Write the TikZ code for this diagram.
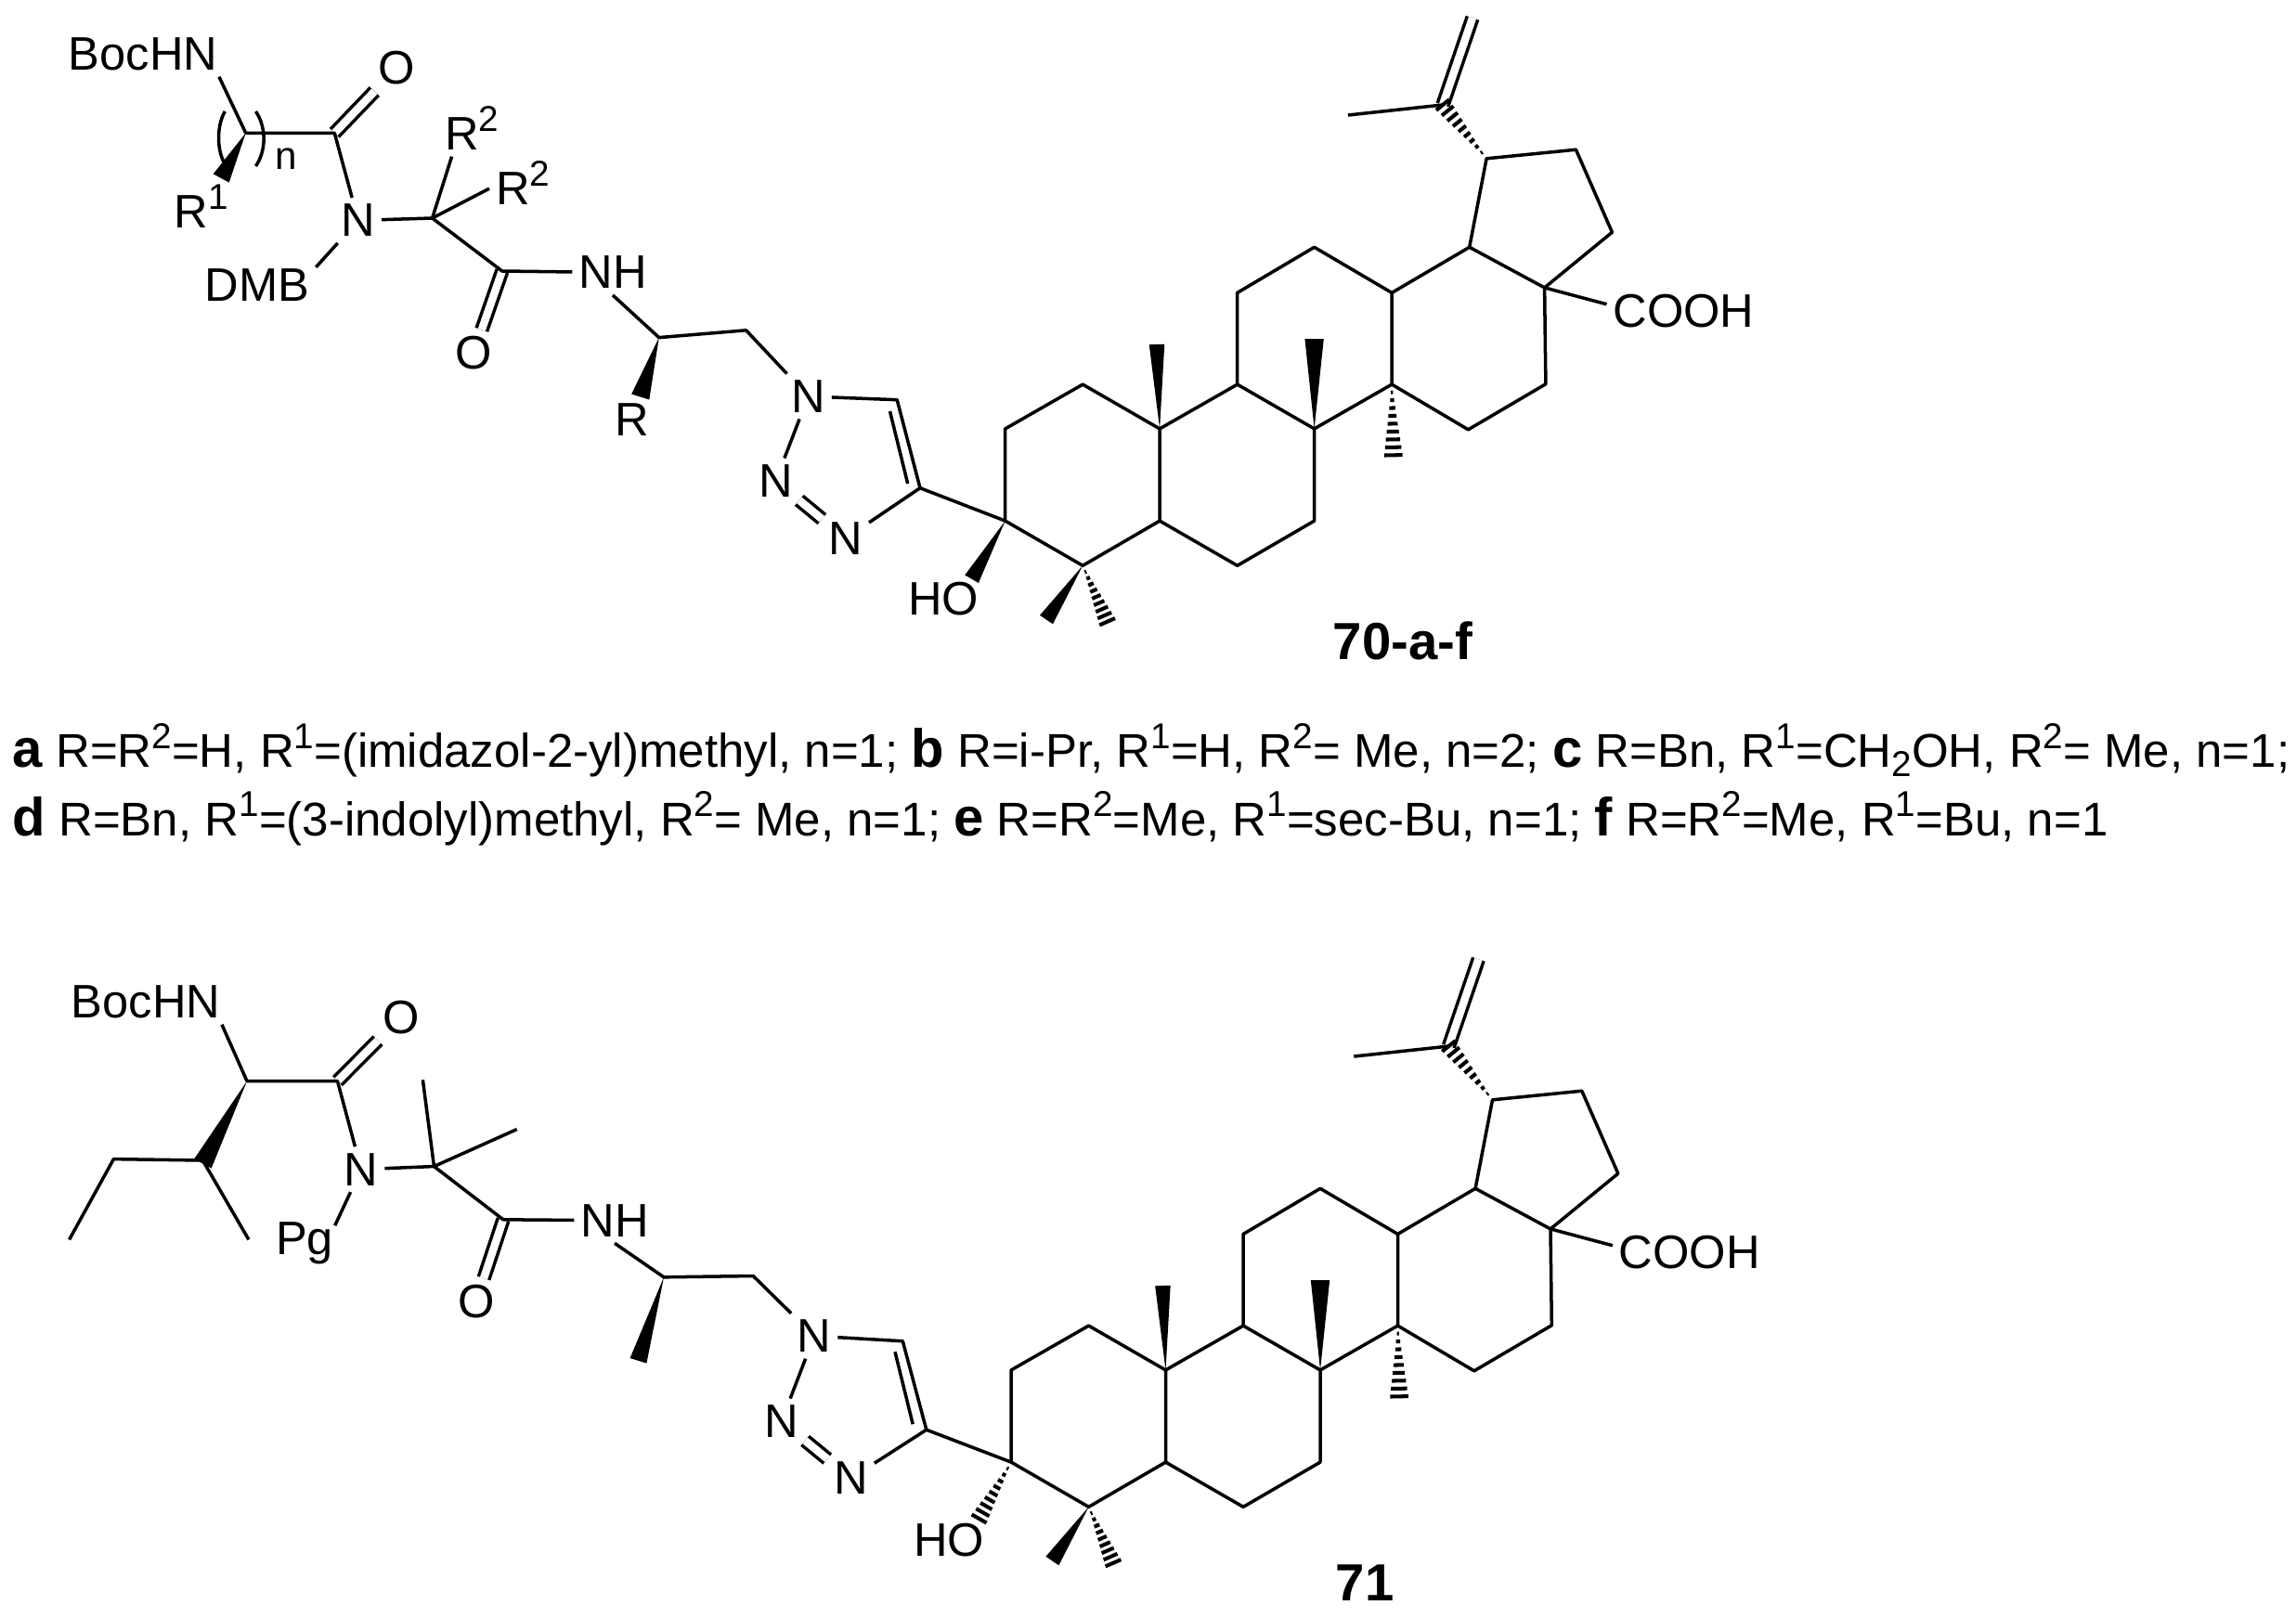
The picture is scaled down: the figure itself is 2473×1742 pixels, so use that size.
\documentclass[tikz,border=0pt]{standalone}
\usepackage{fontspec}
\setmainfont{Liberation Sans}
\usetikzlibrary{calc}

\newcommand{\sps}[1]{\raisebox{.4em}{\fontsize{11}{11}\selectfont #1}}
\newcommand{\sbs}[1]{\raisebox{-.2em}{\fontsize{11}{11}\selectfont #1}}
\newcommand{\lbl}[1]{{\fontsize{16.5}{16.5}\selectfont\bfseries #1}}

\tikzset{
  atom/.style={inner sep=1.5pt,font=\fontsize{14.4}{14.4}\selectfont},
  small/.style={inner sep=1pt,font=\fontsize{12}{12}\selectfont},
  legend/.style={inner sep=0pt,anchor=base west,font=\fontsize{14.5}{14.5}\selectfont},
  title/.style={inner sep=0pt,font=\fontsize{16}{16}\selectfont\bfseries},
  dbl/.style={double,double distance=2.4pt}
}

\newcommand{\wedgebond}[3]{
  \fill (#1) -- ($(#2)!#3!90:(#1)$) -- ($(#2)!#3!-90:(#1)$) -- cycle;
}
\newcommand{\hashbond}[3]{
  \coordinate (hl) at ($(#2)!#3!90:(#1)$);
  \coordinate (hr) at ($(#2)!#3!-90:(#1)$);
  \foreach \t in {1,...,9}
    \draw[line width=1.15pt] ($(#1)!\t/9!(hl)$) -- ($(#1)!\t/9!(hr)$);
}

% the pentacyclic part, #1 is the prefix of its names
\newcommand{\lupane}[3]{
  \begin{scope}[shift={(#2,#3)}]
    \coordinate (#1c1) at (1166.2,414.1);
    \coordinate (#1c2) at (1082.7,461.9);
    \coordinate (#1c3) at (1082.7,561.1);
    \coordinate (#1c4) at (1166.2,609.3);
    \coordinate (#1c5) at (1249.1,561.1);
    \coordinate (#1c6) at (1332.7,609.3);
    \coordinate (#1c7) at (1415.6,561.1);
    \coordinate (#1c8) at (1415.6,461.9);
    \coordinate (#1c9) at (1332.7,414.1);
    \coordinate (#1c10) at (1249.1,461.9);
    \coordinate (#1c11) at (1332.7,315.4);
    \coordinate (#1c12) at (1415.6,266.3);
    \coordinate (#1c13) at (1499.1,315.4);
    \coordinate (#1c14) at (1499.1,414.1);
    \coordinate (#1c15) at (1581.4,462.8);
    \coordinate (#1c16) at (1664.9,413.7);
    \coordinate (#1c17) at (1663.6,309.9);
    \coordinate (#1c18) at (1582.7,266.3);
    \coordinate (#1c19) at (1601.1,170.8);
    \coordinate (#1c20) at (1697.4,161.2);
    \coordinate (#1c21) at (1736.4,250.2);
    \coordinate (#1c29) at (1554,113);
    \coordinate (#1c30) at (1451.9,124);
    \coordinate (#1c31) at (1586,19.3);
    \coordinate (#1me4a) at (1127,667.5);
    \coordinate (#1me4b) at (1192.6,669.7);
    \coordinate (#1me10) at (1246,371);
    \coordinate (#1me8) at (1415.6,365);
    \coordinate (#1me14) at (1500.7,490.3);
    \node[atom] (#1cooh) at (1813.5,335) {COOH};
    \node[atom] (#1ho) at (1016,645) {HO};
  \end{scope}
  \draw (#1c3) -- (#1c2) -- (#1c1) -- (#1c10) -- (#1c5) -- (#1c4) -- cycle;
  \draw (#1c10) -- (#1c9) -- (#1c8) -- (#1c7) -- (#1c6) -- (#1c5);
  \draw (#1c9) -- (#1c11) -- (#1c12) -- (#1c13) -- (#1c14) -- (#1c8);
  \draw (#1c14) -- (#1c15) -- (#1c16) -- (#1c17) -- (#1c18) -- (#1c13);
  \draw (#1c18) -- (#1c19) -- (#1c20) -- (#1c21) -- (#1c17);
  \draw[dbl] (#1c29) -- (#1c31);
  \draw (#1c30) -- (#1c29);
  \draw (#1c17) -- (#1cooh.175);
  \wedgebond{#1c4}{#1me4a}{2.4pt}
  \hashbond{#1c4}{#1me4b}{2.6pt}
  \wedgebond{#1c10}{#1me10}{2.35pt}
  \wedgebond{#1c8}{#1me8}{2.9pt}
  \hashbond{#1c14}{#1me14}{2.8pt}
  \hashbond{#1c19}{#1c29}{2.6pt}
}

\begin{document}
\begin{tikzpicture}[x=.01cm,y=-.01cm,line width=1pt,line join=round]
  \useasboundingbox (0,0) rectangle (2473,1742);

  \lupane{t}{0}{0}
  \lupane{b}{6.4}{1014}

  % compound 70
  \node[atom] (tboc) at (154,58) {BocHN};
  \node[atom] (to1) at (427.3,73.5) {O};
  \node[atom] (tn) at (385.8,237.4) {N};
  \node[atom,anchor=base west,inner sep=0pt] (tr1) at (186,245.6) {R\sps{1}};
  \node[atom,anchor=base west] (tr2a) at (472,161.6) {R\sps{2}};
  \node[atom,anchor=base west] (tr2b) at (527,220.4) {R\sps{2}};
  \node[atom] (tdmb) at (277,307) {DMB};
  \node[small] (tidx) at (308.7,171) {n};
  \node[atom] (tnh) at (660,293.5) {NH};
  \node[atom] (to2) at (510.2,380.2) {O};
  \node[atom] (tr) at (680.4,452.3) {R};
  \node[atom] (tn1) at (870.5,427) {N};
  \node[atom] (tn2) at (835.5,518) {N};
  \node[atom] (tn3) at (910.7,580) {N};
  \coordinate (ta) at (264.7,143.3);
  \coordinate (tb) at (360.3,143.3);
  \coordinate (tc) at (465.6,235);
  \coordinate (td) at (540.8,292);
  \coordinate (te) at (709.8,363.6);
  \coordinate (tf) at (803.6,355.8);
  \coordinate (tt5) at (966.2,430.7);
  \coordinate (tt4) at (991,525.7);
  \coordinate (tti) at (958.5,443);
  \coordinate (ttj) at (977.7,521);
  \coordinate (tw1) at (238.2,192);
  \coordinate (tw2) at (689.7,427.5);
  \coordinate (tw3) at (1046.6,623.7);
  \coordinate (tbl1) at (242.3,120);
  \coordinate (tbl2) at (241,174.5);
  \coordinate (tbr1) at (275.5,120);
  \coordinate (tbr2) at (275.5,179);
  \draw[dbl] (tb) -- (to1);
  \draw[dbl] (td) -- (to2);
  \draw[dbl] (tn2) -- (tn3);
  \draw ([xshift=-1.5pt]tboc.south east) -- (ta) -- (tb) -- (tn);
  \draw (tn) -- (tc) -- (td) -- (tnh);
  \draw (tn) -- ([yshift=-1.5pt]tdmb.north east);
  \draw (tc) -- (tr2a.-125);
  \draw (tc) -- (tr2b.190);
  \draw (tnh.south) -- (te) -- (tf) -- (tn1);
  \draw (tn1) -- (tt5) -- (tt4) -- (tn3);
  \draw (tn1) -- (tn2);
  \draw (tti) -- (ttj);
  \draw (tt4) -- (tc3);
  \draw (tbl1) .. controls (233.5,135) and (233.5,160) .. (tbl2);
  \draw (tbr1) .. controls (287,137) and (287,162) .. (tbr2);
  \wedgebond{ta}{tw1}{2.75pt}
  \wedgebond{te}{tw2}{2.85pt}
  \wedgebond{tc3}{tw3}{2.4pt}
  \node[title] (tname) at (1511,690) {70-a-f};

  \node[legend] (line1) at (12,826.7) {\lbl{a} R=R\sps{2}=H, R\sps{1}=(imidazol-2-yl)methyl, n=1; \lbl{b} R=i-Pr, R\sps{1}=H, R\sps{2}= Me, n=2; \lbl{c} R=Bn, R\sps{1}=CH\sbs{2}OH, R\sps{2}= Me, n=1;};
  \node[legend] (line2) at (12,900) {\lbl{d} R=Bn, R\sps{1}=(3-indolyl)methyl, R\sps{2}= Me, n=1; \lbl{e} R=R\sps{2}=Me, R\sps{1}=sec-Bu, n=1; \lbl{f} R=R\sps{2}=Me, R\sps{1}=Bu, n=1};

  % compound 71
  \node[atom] (bboc) at (157,1079) {BocHN};
  \node[atom] (bo1) at (431.8,1095.8) {O};
  \node[atom] (bn) at (389,1259.7) {N};
  \node[atom,anchor=base west] (bpg) at (290,1351.5) {Pg};
  \node[atom] (bnh) at (662,1314.8) {NH};
  \node[atom] (bo2) at (512.8,1402) {O};
  \node[atom] (bn1) at (877,1439.2) {N};
  \node[atom] (bn2) at (841.8,1531) {N};
  \node[atom] (bn3) at (916.5,1592.5) {N};
  \coordinate (ba) at (266,1164.6);
  \coordinate (bb) at (363.5,1164.6);
  \coordinate (bc) at (467.5,1256.5);
  \coordinate (bd) at (542,1313.8);
  \coordinate (be) at (715,1375.8);
  \coordinate (bf) at (811.2,1374.5);
  \coordinate (bg) at (218.4,1250);
  \coordinate (bme1) at (455.4,1163.3);
  \coordinate (bme2) at (556.8,1216.5);
  \coordinate (bet1) at (122.4,1248.6);
  \coordinate (bet2) at (74.6,1335.4);
  \coordinate (bme3) at (267.9,1335.4);
  \coordinate (bt5) at (972.3,1444.7);
  \coordinate (bt4) at (997.8,1540.2);
  \coordinate (bti) at (964,1456.2);
  \coordinate (btj) at (983.2,1534.2);
  \coordinate (bw1) at (218.4,1253.5);
  \coordinate (bw2) at (687.5,1465.8);
  \coordinate (bw3) at (1054.6,1636);
  \draw[dbl] (bb) -- (bo1);
  \draw[dbl] (bd) -- (bo2);
  \draw[dbl] (bn2) -- (bn3);
  \draw ([xshift=-1.5pt]bboc.south east) -- (ba) -- (bb) -- (bn);
  \draw (bn) -- (bc) -- (bd) -- (bnh);
  \draw (bn) -- ([xshift=-1.5pt,yshift=-3pt]bpg.north east);
  \draw (bme1) -- (bc) -- (bme2);
  \draw (bme3) -- (bg) -- (bet1) -- (bet2);
  \draw (bnh.south) -- (be) -- (bf) -- (bn1);
  \draw (bn1) -- (bt5) -- (bt4) -- (bn3);
  \draw (bn1) -- (bn2);
  \draw (bti) -- (btj);
  \draw (bt4) -- (bc3);
  \wedgebond{ba}{bw1}{3pt}
  \wedgebond{be}{bw2}{2.65pt}
  \hashbond{bc3}{bw3}{2.6pt}
  \node[title] (bname) at (1470,1705) {71};
\end{tikzpicture}
\end{document}
